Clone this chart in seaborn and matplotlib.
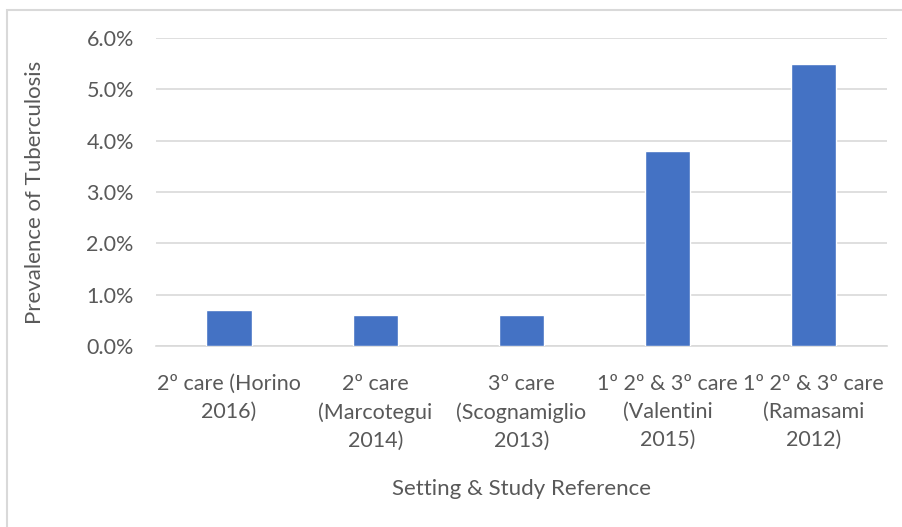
import matplotlib
matplotlib.use('Agg')
import matplotlib.pyplot as plt
import matplotlib.patches as mpatches
from matplotlib.ticker import PercentFormatter
import seaborn as sns
import pandas as pd

# ── Data ──────────────────────────────────────────────────────────────────────
settings = ['2º care (Horino\n2016)',
            '2º care\n(Marcotegui\n2014)',
            '3º care\n(Scognamiglio\n2013)',
            '1º 2º & 3º care\n(Valentini\n2015)',
            '1º 2º & 3º care\n(Ramasami\n2012)']
prevalence = [0.007, 0.006, 0.006, 0.038, 0.055]
y_ticks = [0.0, 0.01, 0.02, 0.03, 0.04, 0.05, 0.06]

TEXT = '#595959'
BAR = '#4472C4'
GRID = '#D9D9D9'

sns.set_theme(style='white')
plt.rcParams['font.family'] = ['Lato', 'DejaVu Sans']

df = pd.DataFrame({'setting': settings, 'prev': prevalence})

fig = plt.figure(figsize=(9.02, 5.27), dpi=100)
fig.patch.set_facecolor('white')
ax = fig.add_axes([0.173, 0.343, 0.810, 0.585])

# outer chart border (only left/top visible in the crop)
fig.patches.append(mpatches.Rectangle((7 / 902, -0.05), 1.1, 1 - 10 / 527 + 0.05,
                                      transform=fig.transFigure, fill=False,
                                      edgecolor=GRID, lw=1.5, zorder=0))

sns.barplot(data=df, x='setting', y='prev', color=BAR, width=0.31,
            saturation=1, ax=ax, zorder=3)

ax.set_ylim(0, 0.06)
ax.set_yticks(y_ticks)
ax.yaxis.set_major_formatter(PercentFormatter(1.0, decimals=1))
ax.grid(axis='y', color=GRID, lw=1.2, zorder=0)
for s in ['top', 'right', 'left']:
    ax.spines[s].set_visible(False)
ax.spines['bottom'].set_color(GRID)
ax.spines['bottom'].set_linewidth(1.2)
ax.tick_params(axis='both', length=0, colors=TEXT, labelsize=15.5)
ax.tick_params(axis='y', pad=16)
ax.tick_params(axis='x', pad=20)
for t in ax.get_xticklabels():
    t.set_linespacing(1.5)

ax.set_ylabel('Prevalence of Tuberculosis', color=TEXT, fontsize=16, labelpad=30)
ax.set_xlabel('Setting & Study Reference', color=TEXT, fontsize=16, labelpad=20)

plt.savefig('out.png', dpi=100)
plt.close()
